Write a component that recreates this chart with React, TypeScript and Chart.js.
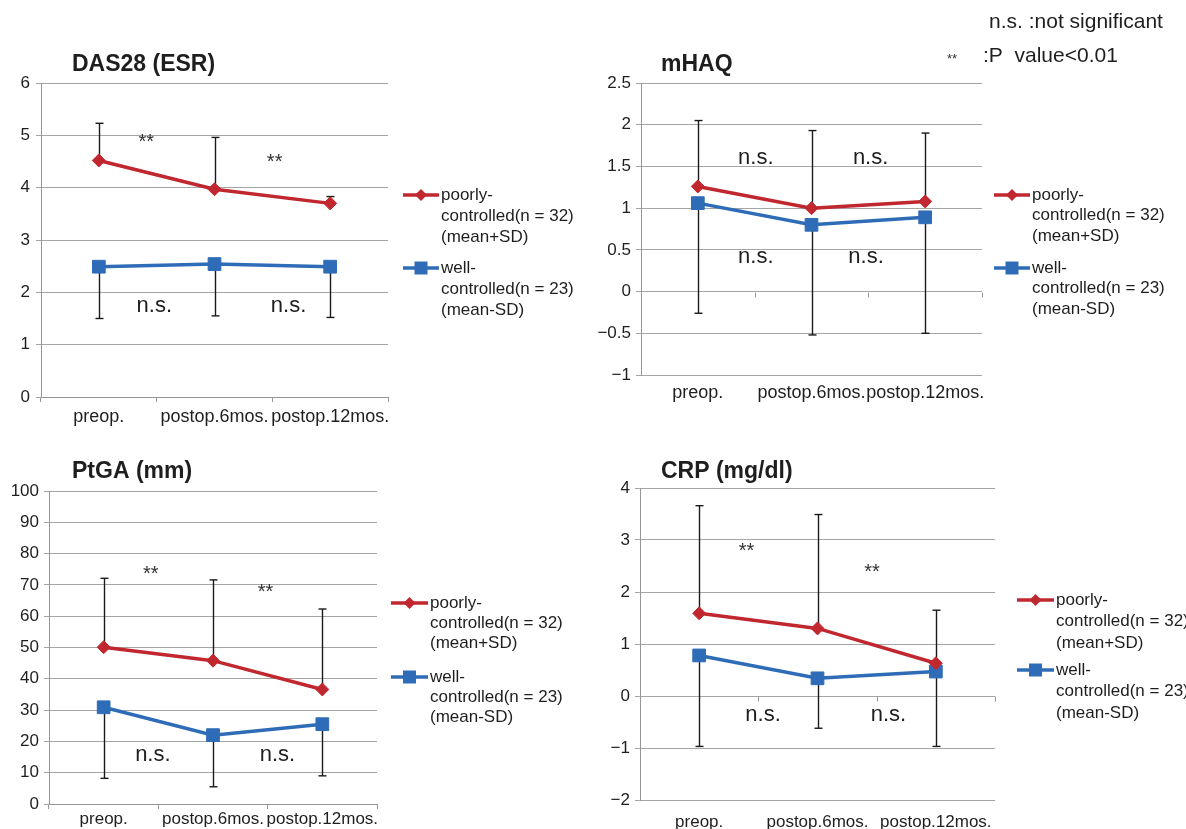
import React, { useEffect, useRef } from "react";
import { Chart, registerables } from "chart.js";

Chart.register(...registerables);

// ---------- data ----------
const categories = ["preop.", "postop.6mos.", "postop.12mos."];

const das28PoorlyMean = [4.52, 3.97, 3.7];
const das28PoorlySD = [0.71, 0.99, 0.13];
const das28WellMean = [2.49, 2.54, 2.49];
const das28WellSD = [0.99, 0.99, 0.97];

const mhaqPoorlyMean = [1.26, 1.0, 1.08];
const mhaqPoorlySD = [0.79, 0.93, 0.82];
const mhaqWellMean = [1.06, 0.8, 0.89];
const mhaqWellSD = [1.32, 1.32, 1.39];

const ptgaPoorlyMean = [50.1, 45.8, 36.6];
const ptgaPoorlySD = [22.0, 25.8, 25.7];
const ptgaWellMean = [30.9, 22.0, 25.5];
const ptgaWellSD = [22.7, 16.5, 16.5];

const crpPoorlyMean = [1.59, 1.3, 0.63];
const crpPoorlySD = [2.07, 2.19, 1.02];
const crpWellMean = [0.78, 0.34, 0.47];
const crpWellSD = [1.75, 0.96, 1.44];

const legendPoorly = ["poorly-", "controlled(n = 32)", "(mean+SD)"];
const legendWell = ["well-", "controlled(n = 23)", "(mean-SD)"];

const noteNS = "n.s. :not significant";
const noteStars = "**";
const noteP = ":P  value<0.01";

// ---------- styles ----------
const FONT = "'Liberation Sans', Arial, Helvetica, sans-serif";
const RED = "#c1272f";
const BLUE = "#2f6cb7";
const GRID = "#a5a5a5";
const AXIS = "#959595";
const TEXT = "#1e1e1e";

type Mark = { text: string; x: number; y: number };
type Panel = {
  title: string;
  titlePos: [number, number];
  canvas: [number, number, number, number];
  area: [number, number, number, number];
  yMin: number;
  yMax: number;
  yStep: number;
  poorlyMean: number[];
  poorlySD: number[];
  wellMean: number[];
  wellSD: number[];
  marks: Mark[];
  legend: { lineX: number; textX: number; poorlyY: number; wellY: number; lh: number };
  zeroTicks: boolean;
  xLabelPad: number;
  xFont: number;
  yLabelPad: number;
  notes?: boolean;
};

const panels: Panel[] = [
  {
    title: "DAS28 (ESR)",
    titlePos: [72, 65],
    canvas: [0, 0, 580, 440],
    area: [41, 83, 388, 397],
    yMin: 0,
    yMax: 6,
    yStep: 1,
    poorlyMean: das28PoorlyMean,
    poorlySD: das28PoorlySD,
    wellMean: das28WellMean,
    wellSD: das28WellSD,
    marks: [
      { text: "**", x: 0.41, y: 4.87 },
      { text: "**", x: 1.52, y: 4.49 },
      { text: "n.s.", x: 0.48, y: 1.74 },
      { text: "n.s.", x: 1.64, y: 1.74 },
    ],
    legend: { lineX: 403, textX: 441, poorlyY: 195, wellY: 268, lh: 21 },
    zeroTicks: false,
    xLabelPad: 4,
    xFont: 18,
    yLabelPad: 6,
  },
  {
    title: "mHAQ",
    titlePos: [661, 65],
    canvas: [580, 0, 606, 440],
    area: [641, 83, 982, 375],
    yMin: -1,
    yMax: 2.5,
    yStep: 0.5,
    poorlyMean: mhaqPoorlyMean,
    poorlySD: mhaqPoorlySD,
    wellMean: mhaqWellMean,
    wellSD: mhaqWellSD,
    marks: [
      { text: "n.s.", x: 0.51, y: 1.6 },
      { text: "n.s.", x: 1.52, y: 1.6 },
      { text: "n.s.", x: 0.51, y: 0.42 },
      { text: "n.s.", x: 1.48, y: 0.42 },
    ],
    legend: { lineX: 994, textX: 1032, poorlyY: 195, wellY: 268, lh: 20.5 },
    zeroTicks: true,
    xLabelPad: 2,
    xFont: 18,
    yLabelPad: 5,
    notes: true,
  },
  {
    title: "PtGA (mm)",
    titlePos: [72, 472],
    canvas: [0, 440, 580, 389],
    area: [49, 491, 377, 804],
    yMin: 0,
    yMax: 100,
    yStep: 10,
    poorlyMean: ptgaPoorlyMean,
    poorlySD: ptgaPoorlySD,
    wellMean: ptgaWellMean,
    wellSD: ptgaWellSD,
    marks: [
      { text: "**", x: 0.43, y: 73.2 },
      { text: "**", x: 1.48, y: 67.7 },
      { text: "n.s.", x: 0.45, y: 15.7 },
      { text: "n.s.", x: 1.59, y: 15.7 },
    ],
    legend: { lineX: 391, textX: 430, poorlyY: 603, wellY: 677, lh: 20 },
    zeroTicks: false,
    xLabelPad: 0,
    xFont: 17,
    yLabelPad: 5,
  },
  {
    title: "CRP (mg/dl)",
    titlePos: [661, 472],
    canvas: [580, 440, 606, 389],
    area: [640, 488, 995, 800],
    yMin: -2,
    yMax: 4,
    yStep: 1,
    poorlyMean: crpPoorlyMean,
    poorlySD: crpPoorlySD,
    wellMean: crpWellMean,
    wellSD: crpWellSD,
    marks: [
      { text: "**", x: 0.4, y: 2.77 },
      { text: "**", x: 1.46, y: 2.38 },
      { text: "n.s.", x: 0.54, y: -0.37 },
      { text: "n.s.", x: 1.6, y: -0.37 },
    ],
    legend: { lineX: 1017, textX: 1056, poorlyY: 600, wellY: 670, lh: 21.5 },
    zeroTicks: true,
    xLabelPad: 7,
    xFont: 17,
    yLabelPad: 5,
  },
];

function line(ctx: CanvasRenderingContext2D, x1: number, y1: number, x2: number, y2: number) {
  ctx.beginPath();
  ctx.moveTo(x1, y1);
  ctx.lineTo(x2, y2);
  ctx.stroke();
}

function makePlugin(p: Panel) {
  const ox = p.canvas[0];
  const oy = p.canvas[1];
  return {
    id: "decor",
    beforeDatasetsDraw(chart: any) {
      const ctx: CanvasRenderingContext2D = chart.ctx;
      const xs = chart.scales.x;
      const ys = chart.scales.y;
      ctx.save();
      if (p.zeroTicks) {
        const y0 = Math.round(ys.getPixelForValue(0)) + 0.5;
        ctx.strokeStyle = AXIS;
        ctx.lineWidth = 1;
        for (let i = 0; i <= categories.length; i++) {
          const x = Math.round(xs.getPixelForValue(i - 0.5)) + 0.5;
          line(ctx, x, y0, x, y0 + 5);
        }
      }
      ctx.strokeStyle = "#1a1a1a";
      ctx.lineWidth = 1.4;
      for (let i = 0; i < categories.length; i++) {
        const x = Math.round(xs.getPixelForValue(i)) + 0.5;
        const pa = ys.getPixelForValue(p.poorlyMean[i]);
        const pb = ys.getPixelForValue(p.poorlyMean[i] + p.poorlySD[i]);
        line(ctx, x, pa, x, pb);
        line(ctx, x - 4, pb, x + 4, pb);
        const wa = ys.getPixelForValue(p.wellMean[i]);
        const wb = ys.getPixelForValue(p.wellMean[i] - p.wellSD[i]);
        line(ctx, x, wa, x, wb);
        line(ctx, x - 4, wb, x + 4, wb);
      }
      ctx.restore();
    },
    afterDraw(chart: any) {
      const ctx: CanvasRenderingContext2D = chart.ctx;
      const xs = chart.scales.x;
      const ys = chart.scales.y;
      ctx.save();
      // title
      ctx.fillStyle = TEXT;
      ctx.font = `bold 23px ${FONT}`;
      ctx.textAlign = "left";
      ctx.textBaseline = "middle";
      ctx.fillText(p.title, p.titlePos[0] - ox, p.titlePos[1] - oy);
      // annotations
      ctx.textAlign = "center";
      for (const m of p.marks) {
        ctx.fillStyle = m.text === "**" ? "#333" : TEXT;
        ctx.font = m.text === "**" ? `20px ${FONT}` : `22px ${FONT}`;
        ctx.fillText(m.text, xs.getPixelForValue(m.x), ys.getPixelForValue(m.y));
      }
      // legend
      const L = p.legend;
      const drawEntry = (y: number, color: string, diamond: boolean, lines: string[]) => {
        const lx = L.lineX - ox;
        const ly = y - oy;
        const lw = L.textX - L.lineX - 2;
        ctx.strokeStyle = color;
        ctx.lineWidth = 3.5;
        line(ctx, lx, ly, lx + lw, ly);
        ctx.fillStyle = color;
        const cx = lx + lw / 2;
        ctx.beginPath();
        if (diamond) {
          ctx.moveTo(cx - 6, ly);
          ctx.lineTo(cx, ly - 6);
          ctx.lineTo(cx + 6, ly);
          ctx.lineTo(cx, ly + 6);
          ctx.closePath();
        } else {
          ctx.rect(cx - 6.5, ly - 6.5, 13, 13);
        }
        ctx.fill();
        ctx.fillStyle = TEXT;
        ctx.font = `17px ${FONT}`;
        ctx.textAlign = "left";
        lines.forEach((t, k) => ctx.fillText(t, L.textX - ox, ly + k * L.lh));
      };
      drawEntry(L.poorlyY, RED, true, legendPoorly);
      drawEntry(L.wellY, BLUE, false, legendWell);
      // notes
      if (p.notes) {
        ctx.fillStyle = TEXT;
        ctx.textAlign = "left";
        ctx.font = `21px ${FONT}`;
        ctx.fillText(noteNS, 989 - ox, 22 - oy);
        ctx.fillText(noteP, 983 - ox, 56 - oy);
        ctx.font = `13px ${FONT}`;
        ctx.fillStyle = "#333";
        ctx.fillText(noteStars, 947 - ox, 59 - oy);
      }
      ctx.restore();
    },
  };
}

function fmt(v: number) {
  const r = Math.round(v * 100) / 100;
  return String(r).replace("-", "\u2212");
}

function PanelChart({ p }: { p: Panel }) {
  const ref = useRef<HTMLCanvasElement>(null);
  useEffect(() => {
    const [cx, cy, cw, ch] = p.canvas;
    const [al, at, ar, ab] = p.area;
    const yW = al - cx;
    const xH = cy + ch - ab;
    const chart = new Chart(ref.current as HTMLCanvasElement, {
      type: "line",
      data: {
        labels: categories,
        datasets: [
          {
            label: "poorly-controlled",
            data: p.poorlyMean,
            borderColor: RED,
            backgroundColor: RED,
            borderWidth: 3.5,
            pointStyle: "rectRot",
            pointRadius: 6.5,
            pointBorderWidth: 1,
            pointBackgroundColor: RED,
            pointBorderColor: RED,
            tension: 0,
          },
          {
            label: "well-controlled",
            data: p.wellMean,
            borderColor: BLUE,
            backgroundColor: BLUE,
            borderWidth: 3.5,
            pointStyle: "rect",
            pointRadius: 9,
            pointBorderWidth: 1,
            pointBackgroundColor: BLUE,
            pointBorderColor: BLUE,
            tension: 0,
          },
        ],
      },
      options: {
        animation: false,
        responsive: false,
        events: [],
        layout: {
          padding: {
            left: 0,
            top: at - cy,
            right: cx + cw - ar,
            bottom: 0,
          },
        },
        plugins: {
          legend: { display: false },
          tooltip: { enabled: false },
        },
        scales: {
          x: {
            type: "category",
            offset: true,
            grid: {
              display: !p.zeroTicks,
              drawOnChartArea: false,
              drawTicks: true,
              tickLength: 5,
              offset: true,
              color: AXIS,
            },
            border: { display: !p.zeroTicks, color: AXIS },
            ticks: {
              color: TEXT,
              font: { family: FONT, size: p.xFont },
              padding: p.xLabelPad,
              maxRotation: 0,
              autoSkip: false,
            },
            afterFit: (s: any) => {
              s.height = xH;
            },
          },
          y: {
            min: p.yMin,
            max: p.yMax,
            ticks: {
              stepSize: p.yStep,
              color: TEXT,
              font: { family: FONT, size: 17 },
              padding: p.yLabelPad,
              callback: (v: any) => fmt(Number(v)),
            },
            grid: { color: GRID, tickLength: 5, drawTicks: true, lineWidth: 1 },
            border: { color: AXIS, width: 1 },
            afterFit: (s: any) => {
              s.width = yW;
            },
          },
        },
      } as any,
      plugins: [makePlugin(p)],
    });
    return () => chart.destroy();
  }, [p]);
  const [cx, cy, cw, ch] = p.canvas;
  return (
    <canvas
      ref={ref}
      width={cw}
      height={ch}
      style={{ position: "absolute", left: cx, top: cy, width: cw, height: ch, display: "block" }}
    />
  );
}

export default function App() {
  return (
    <div
      style={{
        position: "absolute",
        left: 0,
        top: 0,
        width: 1186,
        height: 829,
        overflow: "hidden",
        background: "#fff",
      }}
    >
      {panels.map((p) => (
        <PanelChart key={p.title} p={p} />
      ))}
    </div>
  );
}
